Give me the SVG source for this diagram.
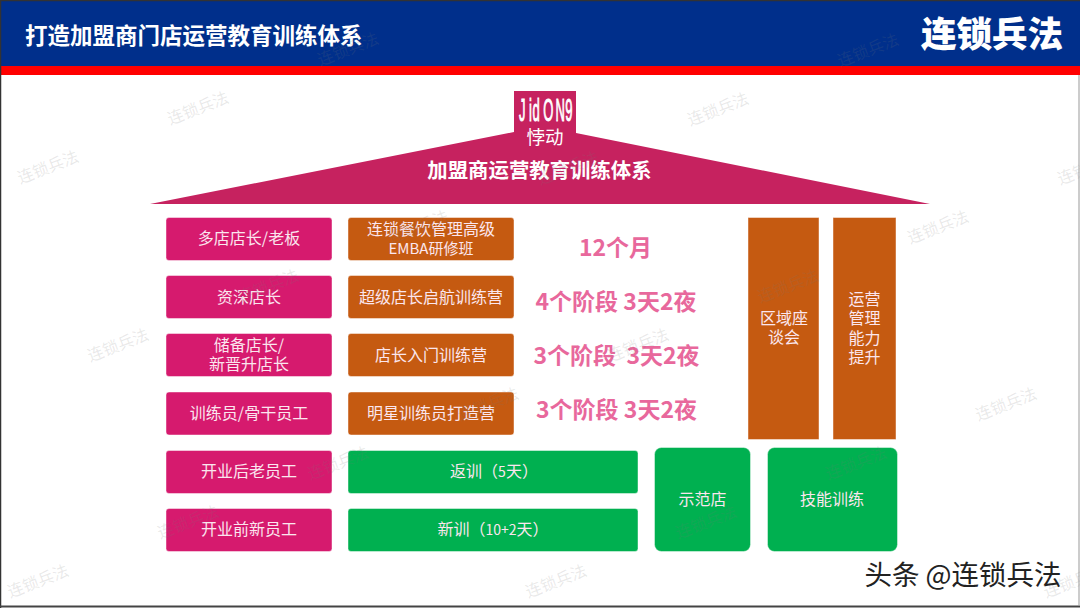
<svg xmlns="http://www.w3.org/2000/svg" width="1080" height="608" viewBox="0 0 1080 608">
<style>
text{font-family:"Noto Sans CJK SC","Noto Sans",sans-serif;text-anchor:middle}
.tw{fill:#fbe6ee;font-size:16px}
.b{stroke-width:1;stroke:#fff;stroke-opacity:.45}
.p{fill:#d61a6e}.o{fill:#c55a11}.g{fill:#00b050}
.d{fill:#e8689c;font-size:23px;font-weight:700}
.n{font-size:14px}
.wm{fill:#777;fill-opacity:.17;font-size:16px;font-family:"Noto Sans CJK SC",sans-serif}
</style>
<rect width="1080" height="608" fill="#fff"/>
<g id="header">
<rect x="0" y="0" width="1080" height="66" fill="#002f8b"/>
<rect x="0" y="66" width="1080" height="9" fill="#ff0000"/>
<text x="25" y="44" style="text-anchor:start;font-size:22.500px;font-weight:700;fill:#fff">打造加盟商门店运营教育训练体系</text>
<text x="992" y="47" style="font-size:35.500px;font-weight:900;fill:#fff">连锁兵法</text>
</g>
<g id="roof">
<polygon points="150,204 514,132 514,91 576,91 576,133 930,204" fill="#c6225f"/>
<text x="539.500" y="178" style="font-size:20.400px;font-weight:700;fill:#fff">加盟商运营教育训练体系</text>
<text transform="translate(519,121) scale(.42,1)" x="0 24 32 58 87 110" y="0" style="text-anchor:start;font-size:31px;font-family:'Liberation Sans',sans-serif;fill:#fff;stroke:#fff;stroke-width:1">JidON9</text>
<text x="545" y="144" style="font-size:18.500px;fill:#fff">悖动</text>
</g>
<g id="r1"><rect class="p b" x="166" y="217.500" width="166" height="43" rx="3"/><text class="tw" x="249" y="244">多店店长/老板</text></g>
<g id="r2"><rect class="p b" x="166" y="275.500" width="166" height="43" rx="3"/><text class="tw" x="249" y="303">资深店长</text></g>
<g id="r3"><rect class="p b" x="166" y="333.500" width="166" height="43" rx="3"/><text class="tw" x="249" y="351">储备店长/</text><text class="tw" x="249" y="370">新晋升店长</text></g>
<g id="r4"><rect class="p b" x="166" y="392" width="166" height="43" rx="3"/><text class="tw" x="249" y="419">训练员/骨干员工</text></g>
<g id="r5"><rect class="p b" x="166" y="450.500" width="166" height="43" rx="3"/><text class="tw" x="249" y="477">开业后老员工</text></g>
<g id="r6"><rect class="p b" x="166" y="508.500" width="166" height="43" rx="3"/><text class="tw" x="249" y="535">开业前新员工</text></g>
<g id="c1"><rect class="o b" x="348" y="217.500" width="166" height="43" rx="3"/><text class="tw" x="431" y="235">连锁餐饮管理高级</text><text class="tw" x="431" y="254" style="font-size:15px">EMBA研修班</text></g>
<g id="c2"><rect class="o b" x="348" y="275.500" width="166" height="43" rx="3"/><text class="tw" x="431" y="303">超级店长启航训练营</text></g>
<g id="c3"><rect class="o b" x="348" y="333.500" width="166" height="43" rx="3"/><text class="tw" x="431" y="361">店长入门训练营</text></g>
<g id="c4"><rect class="o b" x="348" y="392" width="166" height="43" rx="3"/><text class="tw" x="431" y="419">明星训练员打造营</text></g>
<g id="d1"><text class="d" x="615.500" y="256">12个月</text></g>
<g id="d2"><text class="d" x="616" y="310">4个阶段 3天2夜</text></g>
<g id="d3"><text class="d" x="616.500" y="364">3个阶段&#160;&#160;3天2夜</text></g>
<g id="d4"><text class="d" x="616.500" y="418">3个阶段 3天2夜</text></g>
<g id="area"><rect class="o b" x="748" y="217.500" width="71" height="222"/><text class="tw" x="784" y="324">区域座</text><text class="tw" x="784" y="343">谈会</text></g>
<g id="ops"><rect class="o b" x="833" y="217.500" width="63" height="222"/><text class="tw" x="864.500" y="305">运营</text><text class="tw" x="864.500" y="324">管理</text><text class="tw" x="864.500" y="344">能力</text><text class="tw" x="864.500" y="363">提升</text></g>
<g id="g1"><rect class="g b" x="348" y="450.500" width="290" height="43" rx="3"/><text class="tw" x="494" y="477">返训（<tspan class="n">5</tspan>天）</text></g>
<g id="g2"><rect class="g b" x="348" y="508.500" width="290" height="43" rx="3"/><text class="tw" x="493" y="535">新训（<tspan class="n">10+2</tspan>天）</text></g>
<g id="g3"><rect class="g b" x="654.500" y="447.500" width="96" height="104" rx="7"/><text class="tw" x="702.500" y="505">示范店</text></g>
<g id="g4"><rect class="g b" x="767.500" y="447.500" width="130" height="104" rx="7"/><text class="tw" x="832" y="505">技能训练</text></g>
<g id="wm" class="wm">
<text transform="translate(38,581) rotate(-21)" y="6">连锁兵法</text>
<text transform="translate(188,522) rotate(-21)" y="6">连锁兵法</text>
<text transform="translate(338,463) rotate(-21)" y="6">连锁兵法</text>
<text transform="translate(488,404) rotate(-21)" y="6">连锁兵法</text>
<text transform="translate(638,345) rotate(-21)" y="6">连锁兵法</text>
<text transform="translate(788,286) rotate(-21)" y="6">连锁兵法</text>
<text transform="translate(938,227) rotate(-21)" y="6">连锁兵法</text>
<text transform="translate(1088,168) rotate(-21)" y="6">连锁兵法</text>
<text transform="translate(556,581) rotate(-21)" y="6">连锁兵法</text>
<text transform="translate(706,522) rotate(-21)" y="6">连锁兵法</text>
<text transform="translate(856,463) rotate(-21)" y="6">连锁兵法</text>
<text transform="translate(1006,404) rotate(-21)" y="6">连锁兵法</text>
<text transform="translate(118,345) rotate(-21)" y="6">连锁兵法</text>
<text transform="translate(268,286) rotate(-21)" y="6">连锁兵法</text>
<text transform="translate(418,227) rotate(-21)" y="6">连锁兵法</text>
<text transform="translate(568,168) rotate(-21)" y="6">连锁兵法</text>
<text transform="translate(718,109) rotate(-21)" y="6">连锁兵法</text>
<text transform="translate(868,50) rotate(-21)" y="6">连锁兵法</text>
<text transform="translate(48,167) rotate(-21)" y="6">连锁兵法</text>
<text transform="translate(198,108) rotate(-21)" y="6">连锁兵法</text>
<text transform="translate(348,49) rotate(-21)" y="6">连锁兵法</text>
<text transform="translate(1074,581) rotate(-21)" y="6">连锁兵法</text>
</g>
<g id="frame">
<path d="M.5 608V.5H1080" fill="none" stroke="#333" stroke-width="1.500"/>
<path d="M0 606.500H1080" fill="none" stroke="#444" stroke-width="2"/>
<path d="M1079 75V606" fill="none" stroke="#999"/>
</g>
<text id="credit" x="963" y="585" style="font-size:27.500px;fill:#222">头条 @连锁兵法</text>
</svg>
